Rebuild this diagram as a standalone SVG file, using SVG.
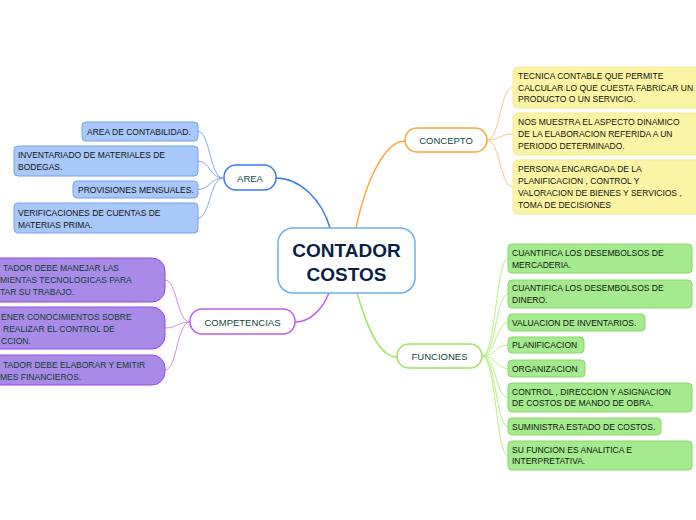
<svg xmlns="http://www.w3.org/2000/svg" width="696" height="520" viewBox="0 0 696 520">
<style>
text{font-family:"Liberation Sans",Arial,sans-serif}
.leaf{font-size:8.5px;fill:#111}
.main{font-size:9.5px;fill:#0e4a3a;text-anchor:middle}
.c{fill:none}
.bl{fill:#a8c8fa;stroke:#74a2ee;stroke-width:1}
.pu{fill:#a98ae8;stroke:#9a48dc;stroke-width:1}
.ye{fill:#fbf4a4;stroke:#f6ec92;stroke-width:1}
.gr{fill:#a6ea8f;stroke:#88d86c;stroke-width:1}
.pt{fill:#0e3d2e}
</style>
<g id="connectors" class="c">
<path d="M276,178 C300,178 322,200 330,228" stroke="#3a78f5" stroke-width="1.5"/>
<path d="M356,228 C366,180 385,141 405,141" stroke="#f8a832" stroke-width="1.5"/>
<path d="M329,293 C322,310 310,322 295,322" stroke="#c05cf0" stroke-width="1.5"/>
<path d="M357,293 C368,330 380,357 397,357" stroke="#9be65a" stroke-width="1.5"/>
<g stroke="#82aaf2" stroke-width="1">
<path d="M223,178 C210,178 210,131.5 198,131.5"/>
<path d="M223,178 C210,178 210,161 198,161"/>
<path d="M223,178 C210,178 210,189.5 198,189.5"/>
<path d="M223,178 C210,178 210,218 198,218"/>
</g>
<g stroke="#d08cf4" stroke-width="1">
<path d="M190,322 C177,322 177,280 165,280"/>
<path d="M190,322 C177,322 177,328 165,328"/>
<path d="M190,322 C177,322 177,370 165,370"/>
</g>
<g stroke="#fbc77a" stroke-width="1">
<path d="M487,140 C500,140 500,87.5 513,87.5"/>
<path d="M487,140 C500,140 500,134 513,134"/>
<path d="M487,140 C500,140 500,187 513,187"/>
</g>
<g stroke="#b8f07e" stroke-width="1">
<path d="M482,356 C496,356 496,258.5 508,258.5"/>
<path d="M482,356 C496,356 496,294 508,294"/>
<path d="M482,356 C496,356 496,322.5 508,322.5"/>
<path d="M482,356 C496,356 496,345 508,345"/>
<path d="M482,356 C496,356 496,368.5 508,368.5"/>
<path d="M482,356 C496,356 496,397.5 508,397.5"/>
<path d="M482,356 C496,356 496,426.5 508,426.5"/>
<path d="M482,356 C496,356 496,455.5 508,455.5"/>
</g>
</g>
<g id="central">
<rect x="278" y="228" width="137" height="65" rx="15" fill="#fff" stroke="#6cb0e6" stroke-width="1.5"/>
<text x="346.5" y="257" font-size="19" font-weight="bold" fill="#0a1f44" text-anchor="middle">CONTADOR</text>
<text x="346.5" y="281" font-size="19" font-weight="bold" fill="#0a1f44" text-anchor="middle">COSTOS</text>
</g>
<g id="area">
<rect x="224" y="165" width="52" height="25" rx="12" fill="#fff" stroke="#3a78f5" stroke-width="1.5"/>
<text class="main" x="250" y="181.5">AREA</text>
</g>
<g id="competencias">
<rect x="190" y="309" width="105" height="25" rx="12" fill="#fff" stroke="#c05cf0" stroke-width="1.5"/>
<text class="main" x="242.5" y="325.5">COMPETENCIAS</text>
</g>
<g id="concepto">
<rect x="405" y="128" width="82" height="24" rx="12" fill="#fff" stroke="#f8a832" stroke-width="1.5"/>
<text class="main" x="446" y="143.5">CONCEPTO</text>
</g>
<g id="funciones">
<rect x="397" y="344" width="85" height="24" rx="12" fill="#fff" stroke="#9be65a" stroke-width="1.5"/>
<text class="main" x="439.5" y="359.5">FUNCIONES</text>
</g>
<g id="area-1"><rect class="bl" x="82" y="122" width="116" height="19" rx="4"/><text class="leaf" x="87" y="134.5">AREA DE CONTABILIDAD.</text></g>
<g id="area-2"><rect class="bl" x="14" y="146" width="184" height="30" rx="4"/><text class="leaf" x="18" y="157.5">INVENTARIADO DE MATERIALES DE</text><text class="leaf" x="18" y="170">BODEGAS.</text></g>
<g id="area-3"><rect class="bl" x="73" y="181" width="125" height="17" rx="4"/><text class="leaf" x="78" y="192.5">PROVISIONES MENSUALES.</text></g>
<g id="area-4"><rect class="bl" x="14" y="203" width="184" height="30" rx="4"/><text class="leaf" x="18" y="216">VERIFICACIONES  DE CUENTAS DE</text><text class="leaf" x="18" y="227.5">MATERIAS PRIMA.</text></g>
<g id="comp-1"><rect class="pu" x="-20" y="258" width="185" height="44" rx="13"/><text class="leaf pt" x="3" y="270.5">TADOR DEBE MANEJAR LAS</text><text class="leaf pt" x="0" y="283">MIENTAS TECNOLOGICAS PARA</text><text class="leaf pt" x="0" y="295">TAR SU TRABAJO.</text></g>
<g id="comp-2"><rect class="pu" x="-20" y="307" width="185" height="42" rx="13"/><text class="leaf pt" x="1" y="319.5">ENER CONOCIMIENTOS SOBRE</text><text class="leaf pt" x="3" y="331.5">REALIZAR EL CONTROL DE</text><text class="leaf pt" x="1" y="343.5">CCION.</text></g>
<g id="comp-3"><rect class="pu" x="-20" y="355" width="185" height="30" rx="13"/><text class="leaf pt" x="3" y="367.5">TADOR DEBE ELABORAR Y EMITIR</text><text class="leaf pt" x="0" y="379.5">MES FINANCIEROS.</text></g>
<g id="concepto-1"><rect class="ye" x="513" y="67" width="190" height="41" rx="5"/><text class="leaf" x="518" y="79">TECNICA CONTABLE QUE PERMITE</text><text class="leaf" x="518" y="90.5">CALCULAR LO QUE CUESTA FABRICAR UN</text><text class="leaf" x="518" y="102">PRODUCTO O UN SERVICIO.</text></g>
<g id="concepto-2"><rect class="ye" x="513" y="113" width="190" height="42" rx="5"/><text class="leaf" x="518" y="125">NOS MUESTRA EL ASPECTO DINAMICO</text><text class="leaf" x="518" y="137">DE LA ELABORACION REFERIDA A UN</text><text class="leaf" x="518" y="149">PERIODO DETERMINADO.</text></g>
<g id="concepto-3"><rect class="ye" x="513" y="160" width="190" height="54" rx="5"/><text class="leaf" x="518" y="172">PERSONA ENCARGADA DE LA</text><text class="leaf" x="518" y="183.5">PLANIFICACION , CONTROL Y</text><text class="leaf" x="518" y="195.5">VALORACION DE BIENES Y SERVICIOS ,</text><text class="leaf" x="518" y="208">TOMA DE DECISIONES</text></g>
<g id="func-1"><rect class="gr" x="508" y="244" width="184" height="29" rx="4"/><text class="leaf" x="512" y="255.5">CUANTIFICA LOS DESEMBOLSOS DE</text><text class="leaf" x="512" y="267.5">MERCADERIA.</text></g>
<g id="func-2"><rect class="gr" x="508" y="280" width="184" height="28" rx="4"/><text class="leaf" x="512" y="291">CUANTIFICA LOS DESEMBOLSOS DE</text><text class="leaf" x="512" y="302.5">DINERO.</text></g>
<g id="func-3"><rect class="gr" x="508" y="314" width="137" height="17" rx="4"/><text class="leaf" x="512" y="325.5">VALUACION DE INVENTARIOS.</text></g>
<g id="func-4"><rect class="gr" x="508" y="337" width="76" height="16" rx="4"/><text class="leaf" x="512" y="348">PLANIFICACION</text></g>
<g id="func-5"><rect class="gr" x="508" y="360" width="77" height="17" rx="4"/><text class="leaf" x="512" y="371.5">ORGANIZACION</text></g>
<g id="func-6"><rect class="gr" x="508" y="383" width="184" height="29" rx="4"/><text class="leaf" x="512" y="394.5">CONTROL , DIRECCION Y ASIGNACION</text><text class="leaf" x="512" y="406">DE COSTOS DE MANDO DE OBRA.</text></g>
<g id="func-7"><rect class="gr" x="508" y="418" width="153" height="17" rx="4"/><text class="leaf" x="512" y="429.5">SUMINISTRA ESTADO DE COSTOS.</text></g>
<g id="func-8"><rect class="gr" x="508" y="441" width="184" height="29" rx="4"/><text class="leaf" x="512" y="452.5">SU FUNCION ES ANALITICA E</text><text class="leaf" x="512" y="464">INTERPRETATIVA.</text></g>
</svg>
